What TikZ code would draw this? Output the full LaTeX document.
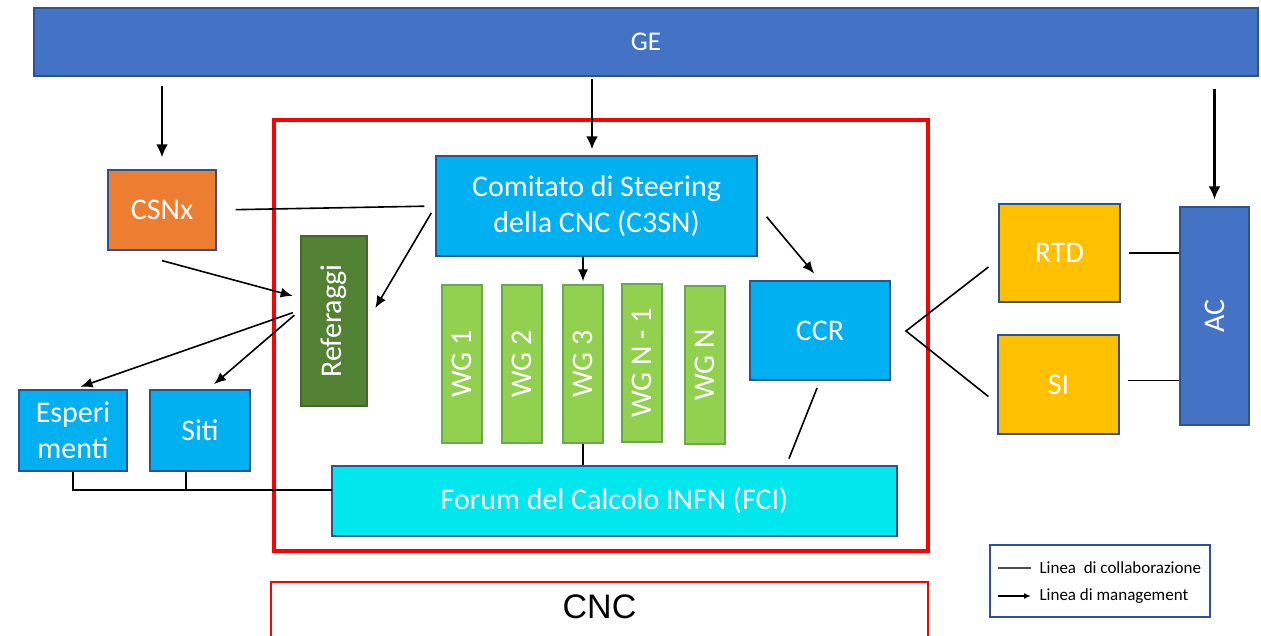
\documentclass[tikz,border=0pt]{standalone}
\usepackage{fontspec}
\setmainfont{Carlito}
\newfontfamily\arialfont{Liberation Sans}
\usetikzlibrary{arrows.meta}
\definecolor{geblue}{HTML}{4472C4}
\definecolor{geborder}{HTML}{2F528F}
\definecolor{skyblue}{HTML}{00B0F0}
\definecolor{csnorange}{HTML}{ED7D31}
\definecolor{refgreen}{HTML}{548235}
\definecolor{wggreen}{HTML}{92D050}
\definecolor{wgborder}{HTML}{6AA84F}
\definecolor{fcicyan}{HTML}{00E8EE}
\definecolor{rtdgold}{HTML}{FFC000}
\definecolor{legblue}{HTML}{2F4F9F}

\begin{document}
\begin{tikzpicture}[x=1pt,y=-1pt,
  box/.style={draw=geborder,line width=1.2pt,inner sep=0pt,text=white,align=center,font=\fontsize{30}{36}\selectfont},
  wg/.style={box,fill=wggreen,draw=wgborder,minimum width=40pt,minimum height=158pt},
  link/.style={line width=1.6pt},
  mgmt/.style={line width=1.6pt,-{Latex[length=12pt,width=10pt]}},
  topmgmt/.style={line width=2.6pt,-{Latex[length=13pt,width=12pt]}}]%
\useasboundingbox (0,0) rectangle (1261,635);
%% top bar
\node[box,fill=geblue,minimum width=1224pt,minimum height=68pt,font=\fontsize{27}{30}\selectfont] (ge) at (646,42) {GE}; %%
%% CNC frame
\draw[red,line width=4pt] (274,120) rectangle (928,551);
\begin{scope}%
\node[box,fill=csnorange,minimum width=108pt,minimum height=80pt] (csnx) at (162,210) {CSNx}; %%
\node[box,fill=skyblue,minimum width=321pt,minimum height=100pt] (c3sn) at (596.5,206) {Comitato di Steering\\della CNC (C3SN)}; %%
\node[box,fill=refgreen,draw=refgreen!80!black,minimum width=66pt,minimum height=170pt] (ref) at (334,321) {\rotatebox{90}{Referaggi}}; %%
\node[wg] (wg1) at (462,364) {\rotatebox{90}{WG 1}}; %%
\node[wg] (wg2) at (522,364) {\rotatebox{90}{WG 2}}; %%
\node[wg] (wg3) at (583,364) {\rotatebox{90}{WG 3}}; %%
\node[wg] (wg4) at (642,363) {\rotatebox{90}{WG N - 1}}; %%
\node[wg] (wg5) at (705,365) {\rotatebox{90}{WG N}}; %%
\node[box,fill=skyblue,minimum width=140pt,minimum height=99pt] (ccr) at (820,330.5) {CCR}; %%
\node[box,fill=fcicyan,minimum width=565pt,minimum height=70pt] (fci) at (614.5,501) {Forum del Calcolo INFN (FCI)}; %%
\node[box,fill=skyblue,minimum width=108pt,minimum height=81pt] (esp) at (73,430.5) {Esperi\\menti}; %%
\node[box,fill=skyblue,minimum width=100pt,minimum height=81pt] (siti) at (200,430.5) {Siti}; %%
\node[box,fill=rtdgold,minimum width=121pt,minimum height=98pt] (rtd) at (1059.5,253) {RTD}; %%
\node[box,fill=rtdgold,minimum width=121pt,minimum height=99pt] (si) at (1058.5,384.5) {SI}; %%
\node[box,fill=geblue,minimum width=69pt,minimum height=218pt] (ac) at (1214.5,316) {\rotatebox{90}{AC}}; %%
\end{scope}
%% CNC label
\draw[red,line width=2.5pt] (271,582) rectangle (928,645);
\node[font=\arialfont\fontsize{34}{38}\selectfont] (cnc) at (599.5,607) {CNC}; %%
%% management lines
\draw[topmgmt,shorten <=9pt,shorten >=12pt] (ge.south -| csnx.north) -- (csnx.north); %%
\draw[topmgmt,shorten <=2pt,shorten >=6pt] (ge.south -| 592,0) -- (c3sn.north -| 592,0); %%
\draw[topmgmt,shorten <=12pt,shorten >=7pt] (ge.south -| ac.north) -- (ac.north); %%
\draw[mgmt,shorten >=3pt] (wg3.north |- c3sn.south) -- (wg3.north); %%
\draw[mgmt,shorten <=8pt,shorten >=15pt] (c3sn.west) -- (ref.east); %%
\draw[mgmt,shorten <=14pt,shorten >=9pt] (c3sn.east) -- (ccr.north); %%
\draw[mgmt,shorten >=8pt] ([yshift=-10pt]csnx.south) -- ([yshift=23pt]ref.west); %%
\draw[mgmt,shorten <=8pt,shorten >=8pt] ([yshift=11pt]ref.west) -- (esp.north); %%
\draw[mgmt,shorten <=8pt,shorten >=8pt] ([yshift=11pt]ref.west) -- ([xshift=8pt]siti.north); %%
%% collaboration lines
\coordinate (bus) at (332,490);
\coordinate (fcitop) at (786,466);
\coordinate (ccrx) at (906,331);
\draw[link,shorten <=19pt,shorten >=11pt] (csnx.east) -- (c3sn.west); %%
\draw[link] (wg3.south) -- (wg3.south |- fci.north); %%
\draw[link,shorten <=8pt,shorten >=8pt] (ccr.south) -- (fcitop); %%
\draw[link] (esp.south) |- (bus); %%
\draw[link] ([xshift=-14pt]siti.south) -- ([xshift=-14pt]siti.south |- bus); %%
\draw[link] ([xshift=-10pt,yshift=-14pt]rtd.west) -- (ccrx) -- ([xshift=-9pt,yshift=-12pt]si.west); %%
\draw[link,shorten <=8pt] (rtd.east) -- (rtd.east -| ac.west); %%
\draw[link,shorten <=8pt] ([yshift=4pt]si.east) -- ([yshift=4pt]si.east -| ac.west); %%
%% legend
\draw[legblue,line width=2pt] (990,545) rectangle (1210,617);
\coordinate (l1a) at (998,568);
\coordinate (l1b) at (1031,568);
\coordinate (l2a) at (998,596);
\coordinate (l2b) at (1031,596);
\draw[gray!60!black,line width=1.2pt] (l1a) -- (l1b); %%
\draw[line width=1.4pt,-{Latex[length=7pt,width=6pt]}] (l2a) -- (l2b); %%
\node[anchor=west,font=\fontsize{17}{20}\selectfont] (leg1) at (1036,568) {Linea\ \ di collaborazione}; %%
\node[anchor=west,font=\fontsize{17}{20}\selectfont] (leg2) at (1036,596) {Linea di management}; %%
\end{tikzpicture}
\end{document}
